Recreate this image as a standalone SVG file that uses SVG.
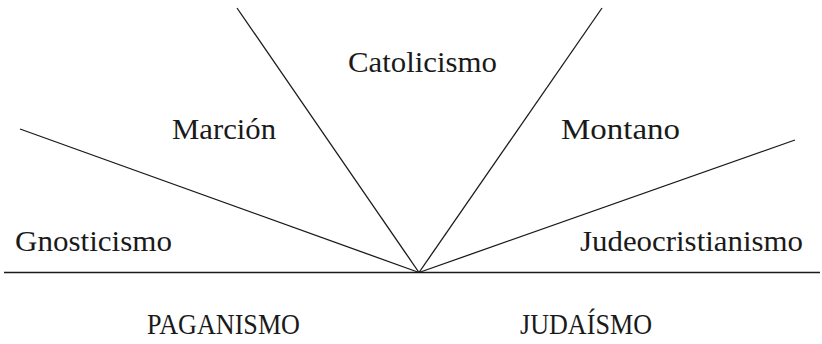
<svg xmlns="http://www.w3.org/2000/svg" width="822" height="344" viewBox="0 0 822 344">
<style>
.l{stroke:#1a1a1a;stroke-width:1.3;fill:none}
text{font-family:"Liberation Serif","Times New Roman",serif;font-size:29px;fill:#1a1a1a;text-anchor:middle}
.c{font-size:28.5px}
</style>
<rect width="822" height="344" fill="#fff"/>
<g id="connectors">
<line class="l" x1="4" y1="272.5" x2="820" y2="272.5"/>
<line class="l" x1="20" y1="129" x2="419" y2="272.5"/>
<line class="l" x1="237" y1="8" x2="419" y2="272.5"/>
<line class="l" x1="602" y1="8" x2="419" y2="272.5"/>
<line class="l" x1="795" y1="140" x2="419" y2="272.5"/>
</g>
<g id="catolicismo"><text x="422.5" y="72" textLength="149" lengthAdjust="spacingAndGlyphs">Catolicismo</text></g>
<g id="marcion"><text x="224" y="139" textLength="104" lengthAdjust="spacingAndGlyphs">Marción</text></g>
<g id="montano"><text x="620.5" y="139" textLength="119" lengthAdjust="spacingAndGlyphs">Montano</text></g>
<g id="gnosticismo"><text x="93.5" y="251" textLength="157" lengthAdjust="spacingAndGlyphs">Gnosticismo</text></g>
<g id="judeocristianismo"><text x="691.5" y="251" textLength="223" lengthAdjust="spacingAndGlyphs">Judeocristianismo</text></g>
<g id="paganismo"><text class="c" x="223.5" y="334" textLength="153" lengthAdjust="spacingAndGlyphs">PAGANISMO</text></g>
<g id="judaismo"><text class="c" x="586" y="334" textLength="132" lengthAdjust="spacingAndGlyphs">JUDAÍSMO</text></g>
</svg>
